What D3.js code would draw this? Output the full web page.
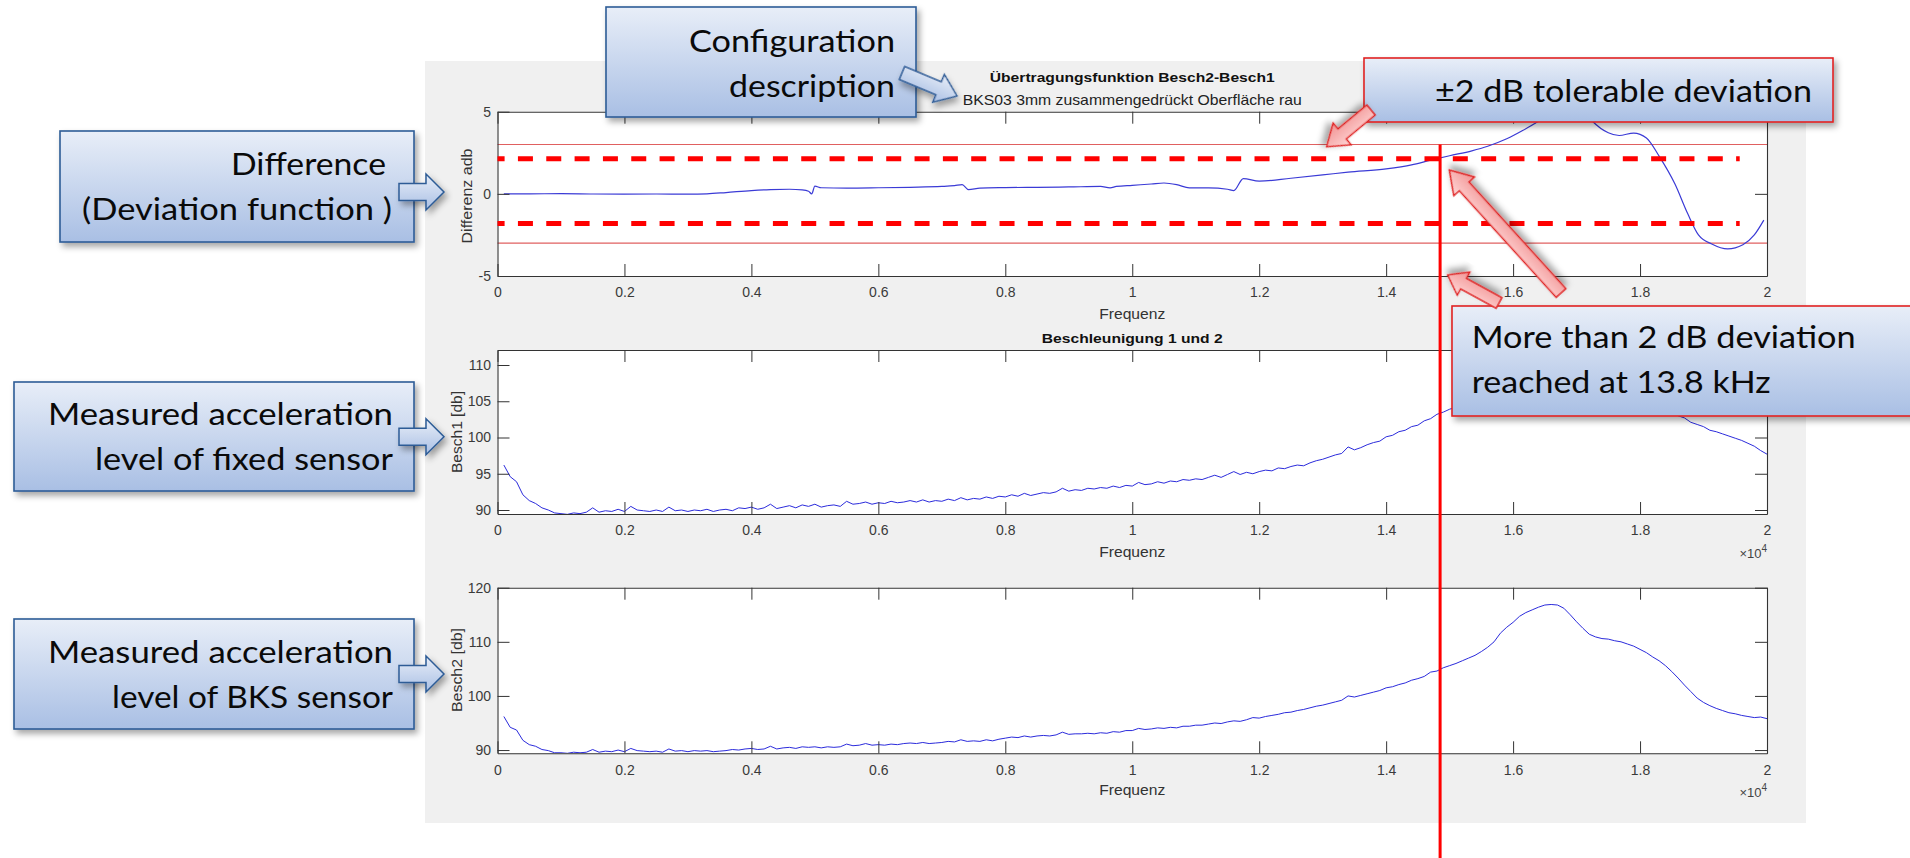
<!DOCTYPE html>
<html><head><meta charset="utf-8">
<script src="https://cdn.jsdelivr.net/npm/d3@7"></script>
<style>html,body{margin:0;padding:0;background:#fff;overflow:hidden}</style>
</head><body>
<svg id="c" width="1910" height="858" xmlns="http://www.w3.org/2000/svg"></svg>
<script>
// ---------------- data ----------------
const xTickValues = [0, 0.2, 0.4, 0.6, 0.8, 1, 1.2, 1.4, 1.6, 1.8, 2];
const xTickLabels = ["0", "0.2", "0.4", "0.6", "0.8", "1", "1.2", "1.4", "1.6", "1.8", "2"];
const diffTicks = [-5, 0, 5];
const besch1Ticks = [90, 95, 100, 105, 110];
const besch2Ticks = [90, 100, 110, 120];

const diffFreq = [0.01, 0.05, 0.10, 0.15, 0.20, 0.25, 0.30, 0.33, 0.36, 0.40, 0.43, 0.46, 0.48, 0.49, 0.495, 0.50, 0.51, 0.55, 0.60, 0.65, 0.70, 0.72, 0.732, 0.742, 0.76, 0.80, 0.85, 0.90, 0.95, 0.965, 0.975, 1.00, 1.03, 1.05, 1.07, 1.09, 1.12, 1.15, 1.16, 1.175, 1.20, 1.25, 1.30, 1.34, 1.40, 1.44, 1.47, 1.50, 1.535, 1.56, 1.59, 1.615, 1.635, 1.65, 1.67, 1.69, 1.71, 1.725, 1.75, 1.767, 1.79, 1.81, 1.83, 1.855, 1.875, 1.892, 1.913, 1.938, 1.962, 1.98, 1.995];
const diffValues = [0.0, 0.0, 0.01, -0.01, -0.02, -0.01, -0.02, 0.0, 0.08, 0.2, 0.26, 0.28, 0.24, 0.16, 0.0, 0.47, 0.37, 0.35, 0.37, 0.40, 0.45, 0.5, 0.56, 0.26, 0.35, 0.38, 0.40, 0.42, 0.45, 0.36, 0.45, 0.52, 0.6, 0.66, 0.56, 0.36, 0.36, 0.28, 0.2, 0.93, 0.77, 0.95, 1.15, 1.32, 1.52, 1.76, 2.05, 2.32, 2.62, 2.9, 3.35, 3.85, 4.3, 4.65, 5.2, 5.5, 5.1, 4.42, 3.72, 3.55, 3.7, 3.4, 2.3, 0.6, -1.2, -2.5, -3.05, -3.35, -3.1, -2.5, -1.6];
const toleranceLimits = [3, -3];
const markedLimits = [2.13, -1.81];
const markedLimitsEnd = 1.957;
const markerFreq = 1.485;

// frequency grid of the two spectra (x 10^4 Hz)
const freqGrid = d3.range(1, 201).map(i => i / 100);
const besch1Values = [
96.2,94.6,93.9,92.1,91.3,90.9,90.3,90.0,89.6,89.5,
89.4,89.6,89.5,89.7,90.3,89.7,89.9,89.8,90.1,89.8,
90.5,90.0,89.9,89.8,90.0,89.8,90.4,89.9,90.0,89.8,
90.0,89.9,90.1,89.8,90.0,90.1,89.9,90.3,90.2,90.4,
90.1,90.3,90.8,90.2,90.4,90.6,90.3,90.7,90.5,90.8,
90.4,90.6,90.7,90.5,91.2,90.8,90.9,91.1,90.8,91.0,
90.9,91.2,91.0,91.1,91.3,91.1,91.4,91.1,91.3,91.2,
91.5,91.3,91.7,91.4,91.6,91.5,91.8,91.6,91.9,91.8,
92.1,91.9,92.3,92.0,92.2,92.4,92.3,92.5,93.0,92.6,
92.8,92.7,93.0,92.9,93.1,93.0,93.3,93.1,93.4,93.3,
93.8,93.5,93.6,93.9,93.7,94.0,93.9,94.2,94.1,94.3,
94.2,94.5,94.8,94.5,94.9,95.3,94.9,95.2,95.0,95.3,
95.5,95.4,95.8,95.7,96.0,96.2,96.1,96.5,96.8,97.0,
97.3,97.6,97.8,98.7,98.3,98.6,99.0,99.3,99.5,100.1,
100.3,100.8,101.0,101.5,101.7,102.3,102.6,103.2,103.5,103.9,
104.2,104.6,105.0,105.4,105.8,106.5,107.3,108.2,109.1,110.0,
110.7,111.3,111.8,112.0,111.9,111.7,111.1,110.4,109.6,108.8,
108.0,107.2,106.9,106.8,106.6,106.2,105.9,105.5,105.1,104.9,
104.6,104.3,104.1,103.8,103.4,103.0,102.7,102.1,101.8,101.5,
101.0,100.8,100.5,100.2,99.9,99.6,99.2,98.8,98.2,97.7];
const besch2Values = [
96.2,94.2,93.7,91.8,91.0,90.7,90.1,89.9,89.5,89.5,
89.4,89.6,89.5,89.6,90.1,89.6,89.8,89.7,90.0,89.7,
90.3,89.9,89.8,89.7,89.8,89.6,90.2,89.8,89.9,89.7,
89.9,89.8,89.9,89.7,89.8,89.9,90.1,90.0,90.2,90.3,
90.1,90.2,90.7,90.2,90.4,90.5,90.3,90.6,90.5,90.6,
90.4,90.6,90.5,90.6,91.1,90.8,90.9,91.2,90.9,91.0,
90.9,91.1,91.0,91.2,91.3,91.2,91.4,91.2,91.3,91.4,
91.6,91.5,91.9,91.6,91.7,91.6,91.9,91.7,92.0,92.2,
92.4,92.3,92.6,92.4,92.6,92.7,92.6,92.8,93.3,92.9,
93.0,93.0,93.1,93.0,93.2,93.1,93.4,93.3,93.6,93.6,
94.0,93.8,93.9,94.1,94.0,94.2,94.1,94.4,94.4,94.6,
94.6,94.8,95.0,94.9,95.2,95.4,95.3,95.6,96.0,95.9,
96.2,96.4,96.6,96.9,97.0,97.3,97.5,97.8,98.1,98.3,
98.6,98.9,99.2,100.0,99.8,100.1,100.4,100.7,101.0,101.5,
101.7,102.1,102.4,102.9,103.2,103.6,104.4,104.6,105.2,105.6,
106.0,106.5,107.0,107.5,108.2,109.0,110.0,111.6,112.7,113.6,
114.7,115.4,115.9,116.4,116.8,116.9,116.8,116.2,115.0,113.7,
112.5,111.4,110.9,110.6,110.5,110.2,110.0,109.6,109.2,108.6,
108.0,107.2,106.5,105.6,104.5,103.3,102.0,100.8,99.6,98.8,
98.2,97.7,97.3,96.9,96.7,96.4,96.2,96.0,96.1,95.8];

// ---------------- drawing ----------------
const svg = d3.select("#c");
const defs = svg.append("defs");
const MFONT = "'Liberation Sans', Arial, Helvetica, sans-serif";
const PFONT = "Lato, 'Open Sans', sans-serif";
const AX = "#333333";

function vGrad(id, c0, c1) {
  const g = defs.append("linearGradient").attr("id", id).attr("x1", 0).attr("y1", 0).attr("x2", 0).attr("y2", 1);
  g.append("stop").attr("offset", "0%").attr("stop-color", c0);
  g.append("stop").attr("offset", "100%").attr("stop-color", c1);
}
vGrad("blueBox", "#e8eef8", "#a9bfe4");
vGrad("redArrow", "#ffd6d6", "#f19393");
const f = defs.append("filter").attr("id", "shadow").attr("x", "-10%").attr("y", "-10%").attr("width", "130%").attr("height", "140%");
f.append("feDropShadow").attr("dx", 3).attr("dy", 4).attr("stdDeviation", 3).attr("flood-color", "#000").attr("flood-opacity", 0.35);

svg.append("rect").attr("width", 1910).attr("height", 858).attr("fill", "#fff");
// MATLAB figure background
svg.append("rect").attr("x", 425).attr("y", 61).attr("width", 1381).attr("height", 762).attr("fill", "#f0f0f0");

const X0 = 497.5, X1 = 1767;
const x = d3.scaleLinear().domain([0, 2]).range([X0, X1]);

const panels = [
  { top: 111.7, bottom: 276, domain: [-5, 5], ticks: diffTicks },
  { top: 350, bottom: 514, domain: [89.45, 112.07], ticks: besch1Ticks },
  { top: 587.7, bottom: 753.3, domain: [89.4, 120], ticks: besch2Ticks }
];
panels.forEach((p, i) => {
  p.y = d3.scaleLinear().domain(p.domain).range([p.bottom, p.top]);
  p.g = svg.append("g");
  p.g.append("rect").attr("x", X0).attr("y", p.top).attr("width", X1 - X0).attr("height", p.bottom - p.top).attr("fill", "#fff");
  defs.append("clipPath").attr("id", "clip" + i).append("rect")
    .attr("x", X0).attr("y", p.top).attr("width", X1 - X0).attr("height", p.bottom - p.top);
});

function styleAxis(sel) {
  sel.attr("font-family", MFONT).attr("font-size", 14).attr("color", AX);
  sel.selectAll("path.domain").attr("stroke-width", 1.1);
  sel.selectAll(".tick line").attr("stroke-width", 1);
  sel.selectAll(".tick text").attr("fill", "#3a3a3a");
}
function drawAxes(p) {
  const g = p.g.append("g");
  g.append("g").attr("transform", `translate(0,${p.bottom})`)
    .call(d3.axisBottom(x).tickValues(xTickValues).tickFormat((d, i) => xTickLabels[i]).tickSizeInner(-12).tickSizeOuter(0).tickPadding(11.5))
    .call(styleAxis);
  g.append("g").attr("transform", `translate(0,${p.top})`)
    .call(d3.axisTop(x).tickValues(xTickValues).tickFormat("").tickSizeInner(-12).tickSizeOuter(0))
    .call(styleAxis);
  g.append("g").attr("transform", `translate(${X0},0)`)
    .call(d3.axisLeft(p.y).tickValues(p.ticks).tickFormat(d => d < 0 ? "-" + Math.abs(d) : String(d)).tickSizeInner(-12).tickSizeOuter(0).tickPadding(6.5))
    .call(styleAxis);
  g.append("g").attr("transform", `translate(${X1},0)`)
    .call(d3.axisRight(p.y).tickValues(p.ticks).tickFormat("").tickSizeInner(-12).tickSizeOuter(0))
    .call(styleAxis);
}

// Panel 1 : difference
const p1 = panels[0];
toleranceLimits.forEach(v => {
  p1.g.append("line").attr("x1", X0).attr("x2", X1).attr("y1", p1.y(v)).attr("y2", p1.y(v))
    .attr("stroke", "#e06060").attr("stroke-width", 1.1);
});
p1.g.append("path").datum(diffFreq.map((f, i) => [f, diffValues[i]]))
  .attr("clip-path", "url(#clip0)")
  .attr("fill", "none").attr("stroke", "#3b3bd6").attr("stroke-width", 1.2)
  .attr("d", d3.line().x(d => x(d[0])).y(d => p1.y(d[1])).curve(d3.curveMonotoneX));
drawAxes(p1);
markedLimits.forEach(v => {
  p1.g.append("line").attr("x1", x(0)).attr("x2", x(markedLimitsEnd)).attr("y1", p1.y(v)).attr("y2", p1.y(v))
    .attr("stroke", "#ff0000").attr("stroke-width", 5).attr("stroke-dasharray", "15,13.33").attr("stroke-dashoffset", 7.9);
});

// Panel 2 & 3 : spectra
[[panels[1], besch1Values, 1], [panels[2], besch2Values, 2]].forEach(([p, vals, i]) => {
  p.g.append("path").datum(freqGrid.map((f, k) => [f, vals[k]]))
    .attr("clip-path", `url(#clip${i})`)
    .attr("fill", "none").attr("stroke", "#2b2bdb").attr("stroke-width", 1)
    .attr("d", d3.line().x(d => x(d[0])).y(d => p.y(d[1])));
  drawAxes(p);
});

// MATLAB texts
function mText(txt, xx, yy, opts = {}) {
  const t = svg.append("text").attr("x", xx).attr("y", yy).text(txt)
    .attr("font-family", MFONT).attr("font-size", opts.size || 15).attr("fill", opts.fill || "#222")
    .attr("text-anchor", opts.anchor || "middle");
  if (opts.bold) t.attr("font-weight", "bold");
  if (opts.len) t.attr("textLength", opts.len).attr("lengthAdjust", "spacingAndGlyphs");
  if (opts.rot) t.attr("transform", `rotate(-90,${xx},${yy})`);
  return t;
}
const xc = (X0 + X1) / 2;
mText("Übertragungsfunktion Besch2-Besch1", xc, 82, { bold: true, len: 285, size: 13.5, fill: "#111" });
mText("BKS03 3mm zusammengedrückt Oberfläche rau", xc, 104.5, { len: 339, size: 15, fill: "#222" });
mText("Frequenz", xc, 318.5, { fill: "#333", len: 66, size: 15.5 });
mText("Beschleunigung 1 und 2", xc, 343, { bold: true, len: 181, size: 13.5, fill: "#111" });
mText("Frequenz", xc, 556.5, { fill: "#333", len: 66, size: 15.5 });
mText("Frequenz", xc, 795, { fill: "#333", len: 66, size: 15.5 });
mText("Differenz adb", 472, 196, { rot: true, len: 95, size: 14, fill: "#333" });
mText("Besch1 [db]", 461.5, 432, { rot: true, len: 82, size: 15, fill: "#333" });
mText("Besch2 [db]", 461.5, 670, { rot: true, len: 84, size: 15, fill: "#333" });
[[558], [796.5]].forEach(([yy]) => {
  const t = svg.append("text").attr("x", X1).attr("y", yy).attr("text-anchor", "end")
    .attr("font-family", MFONT).attr("font-size", 13).attr("fill", "#444");
  t.append("tspan").text("×10");
  t.append("tspan").text("4").attr("font-size", 10).attr("dy", -6);
});

// red marker line
svg.append("line").attr("x1", x(markerFreq)).attr("x2", x(markerFreq))
  .attr("y1", p1.y(toleranceLimits[0])).attr("y2", 858)
  .attr("stroke", "#ff0000").attr("stroke-width", 3);

// ---------------- annotations ----------------
function box(x0, y0, x1, y1, stroke) {
  svg.append("rect").attr("x", x0).attr("y", y0).attr("width", x1 - x0).attr("height", y1 - y0)
    .attr("fill", "url(#blueBox)").attr("stroke", stroke).attr("stroke-width", 1.6).attr("filter", "url(#shadow)");
}
function pText(txt, xx, yy, len, anchor) {
  svg.append("text").attr("x", xx).attr("y", yy).text(txt)
    .attr("font-family", PFONT).attr("font-size", 31).attr("fill", "#0a0a0a")
    .attr("text-anchor", anchor).attr("textLength", len).attr("lengthAdjust", "spacingAndGlyphs");
}
function arrow(xa, ya, xb, yb, sw, hw, hl, fill, stroke) {
  const len = Math.hypot(xb - xa, yb - ya);
  const ang = Math.atan2(yb - ya, xb - xa) * 180 / Math.PI;
  const pts = [[0, -sw / 2], [len - hl, -sw / 2], [len - hl, -hw / 2], [len, 0], [len - hl, hw / 2], [len - hl, sw / 2], [0, sw / 2]];
  svg.append("path").attr("d", "M" + pts.map(q => q.join(",")).join("L") + "Z")
    .attr("transform", `translate(${xa},${ya}) rotate(${ang})`)
    .attr("fill", fill).attr("stroke", stroke).attr("stroke-width", 1.5).attr("stroke-linejoin", "miter")
    .attr("filter", "url(#shadow)");
}
const BLUE = "#2d5c96", RED = "#e02424";

// Configuration description
box(606, 7, 916, 117, BLUE);
pText("Configuration", 895, 52, 206, "end");
pText("description", 895, 97, 166, "end");
arrow(902, 73, 957, 96, 14, 30, 20, "url(#blueBox)", BLUE);

// Difference
box(60, 131, 414, 242, BLUE);
pText("Difference", 386, 175, 155, "end");
pText("(Deviation function )", 392, 220, 310, "end");
arrow(399, 192, 444, 192, 17, 36, 18, "url(#blueBox)", BLUE);

// fixed sensor
box(14, 382, 414, 491, BLUE);
pText("Measured acceleration", 393, 425, 345, "end");
pText("level of fixed sensor", 393, 470, 298, "end");
arrow(399, 436.7, 444, 436.7, 17, 36, 18, "url(#blueBox)", BLUE);

// BKS sensor
box(14, 619, 414, 729, BLUE);
pText("Measured acceleration", 393, 663, 345, "end");
pText("level of BKS sensor", 393, 707.7, 281, "end");
arrow(399, 674, 444, 674, 17, 36, 18, "url(#blueBox)", BLUE);

// tolerable deviation
box(1364, 58, 1833, 122, RED);
pText("±2 dB tolerable deviation", 1812, 101.7, 377, "end");
arrow(1371, 110, 1326.7, 146.7, 13, 28, 20, "url(#redArrow)", RED);

// more than 2 dB
box(1452, 306, 1915, 416, RED);
pText("More than 2 dB deviation", 1471.7, 348.3, 384, "start");
pText("reached at 13.8 kHz", 1471.7, 393.3, 299, "start");
arrow(1561, 293, 1449.3, 170, 13, 28, 22, "url(#redArrow)", RED);
arrow(1499, 303, 1447.7, 275, 12, 26, 18, "url(#redArrow)", RED);
</script>
</body></html>
